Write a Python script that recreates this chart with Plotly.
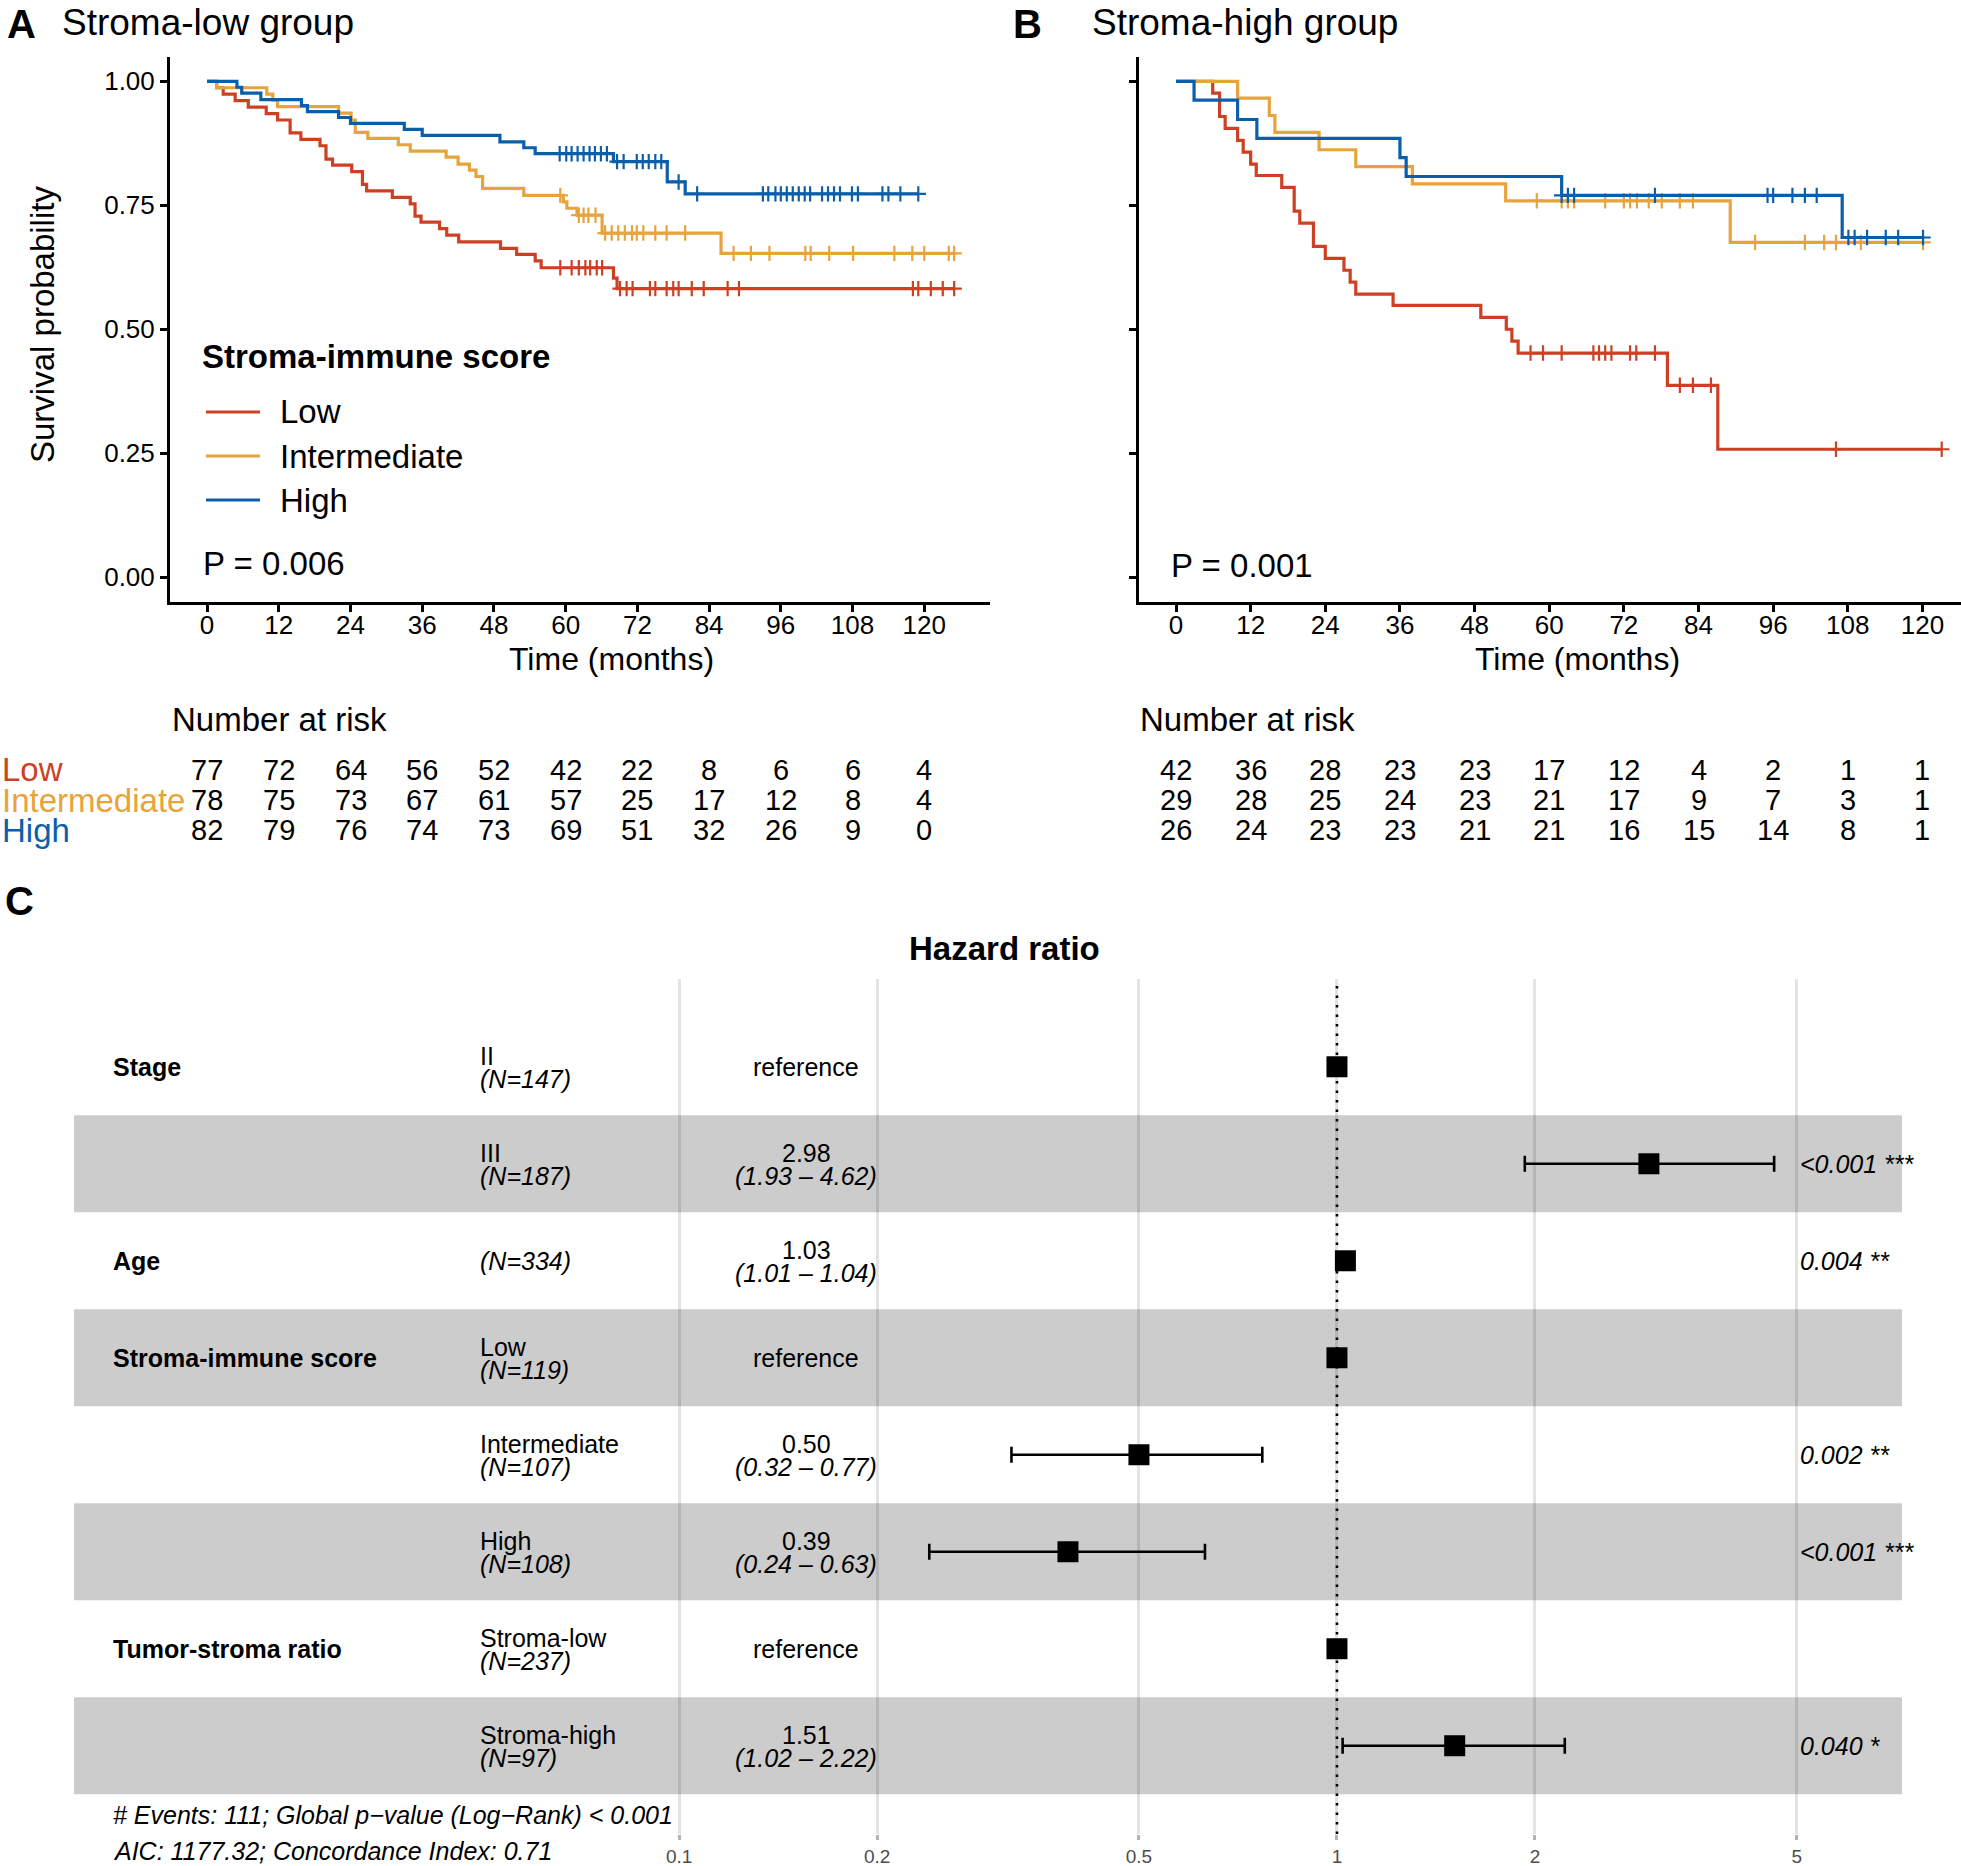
import numpy as np
import plotly.graph_objects as go

W, H = 1961, 1866
FONT = "Liberation Sans"

groups = ["Low", "Intermediate", "High"]
colors = ["#CD4024", "#E7A33C", "#0B5FAA"]

# ---------------- Panel A: Stroma-low group ----------------
a_low_t = [0, 1.6, 2.7, 4.7, 6.9, 9.9, 11.8, 13.9, 15.7, 18.9, 19.9, 21.0, 24.2, 26.0, 26.7, 31.0, 34.0,
           34.8, 35.8, 38.9, 40.1, 42.1, 49.1, 51.8, 54.9, 55.9, 68.0, 68.6, 125.0]
a_low_s = [1.0, 0.987, 0.974, 0.961, 0.948, 0.935, 0.922, 0.896, 0.883, 0.870, 0.843, 0.831, 0.818, 0.792,
           0.779, 0.766, 0.753, 0.728, 0.716, 0.703, 0.690, 0.676, 0.663, 0.651, 0.638, 0.624, 0.603, 0.582, 0.582]
a_low_c = [59.1, 61.0, 62.2, 63.3, 64.1, 65.2, 66.1, 69.1, 70.2, 71.2, 74.1, 75.0, 76.9, 78.0, 78.9, 81.1,
           83.1, 87.1, 89.0, 118.1, 119.0, 121.1, 123.1, 125.0]

a_int_t = [0, 1.6, 10.0, 11.0, 11.8, 22.0, 24.1, 24.8, 26.9, 32.0, 34.0, 40.0, 42.0, 43.9, 45.0, 46.1, 53.0,
           59.6, 60.2, 61.9, 66.1, 86.0, 125.0]
a_int_s = [1.0, 0.987, 0.974, 0.962, 0.949, 0.936, 0.922, 0.897, 0.885, 0.872, 0.859, 0.847, 0.833, 0.821,
           0.808, 0.784, 0.770, 0.757, 0.744, 0.730, 0.694, 0.653, 0.653]
a_int_c = [59.1, 62.2, 63.0, 63.8, 65.0, 66.6, 67.7, 68.8, 69.9, 71.1, 71.9, 73.0, 75.0, 76.9, 80.0, 88.1,
           91.0, 94.1, 100.1, 101.0, 104.1, 108.1, 115.0, 118.0, 120.0, 124.1, 125.0]

a_high_t = [0, 5.0, 5.8, 9.0, 15.8, 16.8, 22.0, 24.0, 33.0, 36.0, 49.0, 53.0, 54.9, 68.0, 77.0, 80.0, 119.0]
a_high_s = [1.0, 0.988, 0.976, 0.963, 0.951, 0.939, 0.927, 0.915, 0.903, 0.891, 0.878, 0.866, 0.854, 0.838,
            0.797, 0.773, 0.773]
a_high_c = [59.0, 60.1, 61.0, 62.0, 63.0, 64.0, 64.9, 65.9, 66.9, 68.6, 69.7, 71.9, 72.9, 73.9, 75.0, 76.0,
            78.9, 82.0, 93.0, 93.9, 95.1, 96.0, 97.0, 98.0, 99.0, 100.0, 100.9, 102.9, 103.9, 104.9, 105.9,
            107.9, 108.9, 113.0, 114.0, 116.0, 119.0]

# ---------------- Panel B: Stroma-high group ----------------
b_low_t = [0, 5.9, 7.0, 7.9, 9.9, 10.8, 12.0, 12.9, 17.0, 19.0, 19.9, 22.1, 24.0, 27.0, 28.0, 28.9, 34.9,
           49.0, 53.1, 54.0, 55.0, 79.0, 87.1, 123.1]
b_low_s = [1.0, 0.976, 0.929, 0.905, 0.881, 0.857, 0.833, 0.810, 0.786, 0.738, 0.714, 0.667, 0.643, 0.619,
           0.595, 0.571, 0.548, 0.524, 0.500, 0.476, 0.452, 0.387, 0.258, 0.258]
b_low_c = [57.0, 59.0, 62.0, 67.1, 68.0, 69.0, 70.0, 73.0, 74.0, 77.0, 81.0, 83.1, 86.0, 106.1, 123.1]

b_int_t = [0, 9.9, 15.0, 15.9, 23.0, 28.9, 38.0, 53.0, 89.1, 120.1]
b_int_s = [1.0, 0.966, 0.931, 0.897, 0.862, 0.828, 0.793, 0.759, 0.675, 0.675]
b_int_c = [58.0, 62.0, 63.0, 64.0, 69.0, 72.0, 73.0, 74.1, 76.0, 78.1, 81.0, 83.1, 93.1, 101.1, 104.2,
           106.1, 110.1, 120.1]

b_high_t = [0, 2.9, 9.9, 13.0, 36.0, 37.0, 62.0, 107.1, 120.1]
b_high_s = [1.0, 0.962, 0.923, 0.885, 0.846, 0.808, 0.770, 0.685, 0.685]
b_high_c = [62.0, 63.0, 64.0, 77.0, 95.1, 96.0, 99.1, 101.1, 103.0, 108.1, 109.1, 111.1, 114.1, 116.1, 120.1]

# ---------------- Risk tables ----------------
risk_times = [0, 12, 24, 36, 48, 60, 72, 84, 96, 108, 120]
a_risk_low = [77, 72, 64, 56, 52, 42, 22, 8, 6, 6, 4]
a_risk_int = [78, 75, 73, 67, 61, 57, 25, 17, 12, 8, 4]
a_risk_high = [82, 79, 76, 74, 73, 69, 51, 32, 26, 9, 0]
b_risk_low = [42, 36, 28, 23, 23, 17, 12, 4, 2, 1, 1]
b_risk_int = [29, 28, 25, 24, 23, 21, 17, 9, 7, 3, 1]
b_risk_high = [26, 24, 23, 23, 21, 21, 16, 15, 14, 8, 1]

y_ticks = [0, 0.25, 0.5, 0.75, 1.0]
y_ticktext = ["0.00", "0.25", "0.50", "0.75", "1.00"]

# ---------------- Panel C: forest plot ----------------
f_var = ["Stage", "", "Age", "Stroma-immune score", "", "", "Tumor-stroma ratio", ""]
f_level = ["II", "III", "", "Low", "Intermediate", "High", "Stroma-low", "Stroma-high"]
f_n = [147, 187, 334, 119, 107, 108, 237, 97]
f_hr = [1.0, 2.98, 1.03, 1.0, 0.50, 0.39, 1.0, 1.51]
f_lo = [None, 1.93, 1.01, None, 0.32, 0.24, None, 1.02]
f_hi = [None, 4.62, 1.04, None, 0.77, 0.63, None, 2.22]
f_p = ["", "<0.001 ***", "0.004 **", "", "0.002 **", "<0.001 ***", "", "0.040 *"]
f_ticks = [0.1, 0.2, 0.5, 1, 2, 5]
f_ticktext = ["0.1", "0.2", "0.5", "1", "2", "5"]
f_note1 = "# Events: 111; Global p\u2212value (Log\u2212Rank) < 0.001"
f_note2 = "AIC: 1177.32; Concordance Index: 0.71"


def px(x):
    return x / W


def py(y):
    return 1 - y / H


def step_at(ts, ss, cs):
    idx = np.searchsorted(np.array(ts), np.array(cs), side="right") - 1
    return [ss[i] for i in idx]


fig = go.Figure()

panels = [
    ("x", "y", [(a_low_t, a_low_s, a_low_c), (a_int_t, a_int_s, a_int_c), (a_high_t, a_high_s, a_high_c)]),
    ("x2", "y2", [(b_low_t, b_low_s, b_low_c), (b_int_t, b_int_s, b_int_c), (b_high_t, b_high_s, b_high_c)]),
]
for xa, ya, series in panels:
    for (t, s, c), col, name in zip(series, colors, groups):
        fig.add_trace(go.Scatter(x=t, y=s, mode="lines", line=dict(color=col, width=3.2, shape="hv"),
                                 xaxis=xa, yaxis=ya, showlegend=False, name=name, hoverinfo="skip"))
        fig.add_trace(go.Scatter(x=c, y=step_at(t, s, c), mode="markers",
                                 marker=dict(symbol="cross-thin", size=11, color=col,
                                             line=dict(width=2.2, color=col)),
                                 xaxis=xa, yaxis=ya, showlegend=False, hoverinfo="skip"))

# forest markers
rows = list(range(1, len(f_hr) + 1))
est_idx = [i for i in range(len(f_hr)) if f_lo[i] is not None]
ref_idx = [i for i in range(len(f_hr)) if f_lo[i] is None]
fig.add_trace(go.Scatter(
    x=[f_hr[i] for i in est_idx], y=[rows[i] for i in est_idx], mode="markers",
    marker=dict(symbol="square", size=21, color="black", line=dict(width=0)),
    error_x=dict(type="data", symmetric=False,
                 array=[f_hi[i] - f_hr[i] for i in est_idx],
                 arrayminus=[f_hr[i] - f_lo[i] for i in est_idx],
                 color="black", thickness=2.6, width=8),
    xaxis="x3", yaxis="y3", showlegend=False, hoverinfo="skip"))
fig.add_trace(go.Scatter(
    x=[f_hr[i] for i in ref_idx], y=[rows[i] for i in ref_idx], mode="markers",
    marker=dict(symbol="square", size=21, color="black", line=dict(width=0)),
    xaxis="x3", yaxis="y3", showlegend=False, hoverinfo="skip"))

shapes = []
# shaded bands on even rows
for r in rows:
    if r % 2 == 0:
        shapes.append(dict(type="rect", xref="x3 domain", yref="y3", x0=0, x1=1, y0=r - 0.5, y1=r + 0.5,
                           fillcolor="#cccccc", line=dict(width=0), layer="below"))
# dotted reference line at HR = 1
shapes.append(dict(type="line", xref="x3", yref="y3 domain", x0=1, x1=1, y0=0, y1=1,
                   line=dict(color="black", width=2.6, dash="2.5px,7px"), layer="above"))

# legend keys in panel A
leg_y = [412, 456, 500]
for col, yy in zip(colors, leg_y):
    shapes.append(dict(type="line", xref="paper", yref="paper", x0=px(206), x1=px(260), y0=py(yy), y1=py(yy),
                       line=dict(color=col, width=3.2)))

annotations = []


def ann(text, x, y, size, color="black", xanchor="center", xref="paper", yref="paper", yshift=0,
        textangle=0):
    annotations.append(dict(text=text, x=x, y=y, xref=xref, yref=yref, xanchor=xanchor, yanchor="middle",
                            showarrow=False, yshift=yshift, textangle=textangle,
                            font=dict(family=FONT, size=size, color=color)))


# panel titles
ann("<b>A</b>", px(5), py(24), 40, xanchor="left")
ann("Stroma-low group", px(60), py(23), 37, xanchor="left")
ann("<b>B</b>", px(1011), py(24), 40, xanchor="left")
ann("Stroma-high group", px(1090), py(23), 37, xanchor="left")
ann("<b>C</b>", px(3), py(901), 40, xanchor="left")

# axis titles
ann("Survival probability", px(43), py(325), 33, textangle=-90)
ann("Time (months)", px(611), py(659), 32)
ann("Time (months)", px(1577), py(659), 32)

# legend
ann("<b>Stroma-immune score</b>", px(200), py(357), 33, xanchor="left")
for name, yy in zip(groups, leg_y):
    ann(name, px(278), py(yy), 33, xanchor="left")

# p values
ann("P = 0.006", px(201), py(563), 33, xanchor="left")
ann("P = 0.001", px(1169), py(565), 33, xanchor="left")

# risk tables
ann("Number at risk", px(170), py(719), 33, xanchor="left")
ann("Number at risk", px(1138), py(719), 33, xanchor="left")
risk_y = [770, 800, 830]
for name, col, yy in zip(groups, colors, risk_y):
    ann(name, px(0), py(yy), 33, color=col, xanchor="left")
for xr, tbl in [("x", [a_risk_low, a_risk_int, a_risk_high]), ("x2", [b_risk_low, b_risk_int, b_risk_high])]:
    for vals, yy in zip(tbl, risk_y):
        for t, v in zip(risk_times, vals):
            ann(str(v), t, py(yy), 29, xref=xr)

# forest plot texts
ann("<b>Hazard ratio</b>", px(1004), py(949), 33)
for i, r in enumerate(rows):
    if f_var[i]:
        ann("<b>" + f_var[i] + "</b>", px(111), r, 25, xanchor="left", yref="y3")
    ntxt = "<i>(N=%d)</i>" % f_n[i]
    if f_level[i]:
        ann(f_level[i], px(478), r, 25, xanchor="left", yref="y3", yshift=10.5)
        ann(ntxt, px(478), r, 25, xanchor="left", yref="y3", yshift=-12.5)
    else:
        ann(ntxt, px(478), r, 25, xanchor="left", yref="y3")
    if f_lo[i] is None:
        ann("reference", px(806), r, 25, yref="y3")
    else:
        ann("%.2f" % f_hr[i], px(806), r, 25, yref="y3", yshift=10.5)
        ann("<i>(%.2f \u2013 %.2f)</i>" % (f_lo[i], f_hi[i]), px(806), r, 25, yref="y3", yshift=-12.5)
    if f_p[i]:
        ann("<i>" + f_p[i] + "</i>", px(1798), r, 25, xanchor="left", yref="y3")
ann("<i>" + f_note1 + "</i>", px(111), py(1815), 25, xanchor="left")
ann("<i>" + f_note2 + "</i>", px(111), py(1851), 25, xanchor="left")

km_x_common = dict(tickmode="array", tickvals=risk_times, ticks="outside", ticklen=7, tickwidth=3,
                   tickcolor="black", showline=True, linewidth=3, linecolor="black", showgrid=False,
                   zeroline=False, ticklabelstandoff=-9,
                   tickfont=dict(family=FONT, size=26, color="black"))
km_y_common = dict(tickmode="array", tickvals=y_ticks, ticktext=y_ticktext, ticks="outside", ticklen=7,
                   tickwidth=3, tickcolor="black", showline=True, linewidth=3, linecolor="black",
                   showgrid=False, zeroline=False, range=[-0.05, 1.05],
                   tickfont=dict(family=FONT, size=26, color="black"))
ydom = [py(602), py(56.5)]

fig.update_layout(
    width=W, height=H, margin=dict(l=0, r=0, t=0, b=0),
    paper_bgcolor="white", plot_bgcolor="white", showlegend=False,
    font=dict(family=FONT, color="black"),
    xaxis=dict(domain=[px(170), px(990)], range=[-6.2, 131.0], anchor="y", **km_x_common),
    yaxis=dict(domain=ydom, anchor="x", **km_y_common),
    xaxis2=dict(domain=[px(1138.5), 1.0], range=[-6.03, 126.2], anchor="y2", **km_x_common),
    yaxis2=dict(domain=ydom, anchor="x2", showticklabels=False, **km_y_common),
    xaxis3=dict(domain=[px(74), px(1902)], type="log", range=[-1.920, 0.859], anchor="y3",
                tickmode="array", tickvals=f_ticks, ticktext=f_ticktext, ticks="outside", ticklen=5,
                tickwidth=2.5, tickcolor="#b3b3b3", showline=False, zeroline=False, showgrid=True,
                gridcolor="rgba(0,0,0,0.11)", gridwidth=2.5,
                tickfont=dict(family=FONT, size=19, color="#4d4d4d")),
    yaxis3=dict(domain=[py(1834), py(979)], range=[8.91, 0.095], anchor="x3", showgrid=False,
                zeroline=False, showline=False, showticklabels=False, ticks=""),
    shapes=shapes, annotations=annotations,
)

fig.write_html("out.html", config={"displayModeBar": False},
               post_script="document.body.style.margin='0px';document.body.style.padding='0px';")
